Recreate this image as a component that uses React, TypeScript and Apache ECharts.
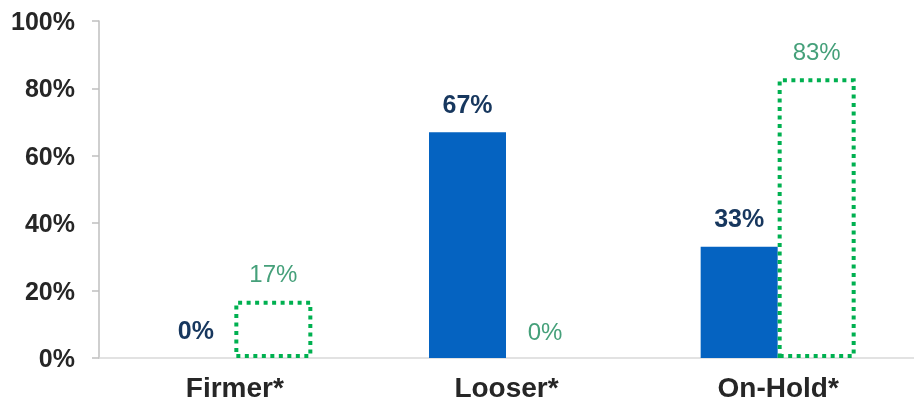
import React, { useEffect, useRef } from "react";
import * as echarts from "echarts";

const categories = ["Firmer*", "Looser*", "On-Hold*"];
const seriesA = [0, 67, 33];
const seriesB = [17, 0, 83];
const yTicks = { min: 0, max: 100, interval: 20 };

const FONT = "'Liberation Sans', Arial, sans-serif";

export default function App() {
  const ref = useRef<HTMLDivElement>(null);
  useEffect(() => {
    if (!ref.current) return;
    const chart = echarts.init(ref.current, undefined, { renderer: "svg" });
    chart.setOption({
      animation: false,
      grid: { left: 99, right: -5, top: 21, bottom: 54, containLabel: false },
      xAxis: {
        type: "category",
        data: categories,
        axisLine: { show: true, lineStyle: { color: "#d9d9d9", width: 1.5 } },
        axisTick: { show: false },
        axisLabel: {
          margin: 15,
          color: "#262626",
          fontSize: 28,
          fontWeight: "bold",
          fontFamily: FONT,
        },
      },
      yAxis: {
        type: "value",
        min: yTicks.min,
        max: yTicks.max,
        interval: yTicks.interval,
        splitLine: { show: false },
        axisLine: { show: true, lineStyle: { color: "#bfbfbf", width: 1.5 } },
        axisTick: { show: true, length: 7, lineStyle: { color: "#bfbfbf", width: 1.5 } },
        axisLabel: {
          margin: 24,
          color: "#262626",
          fontSize: 25,
          fontWeight: "bold",
          fontFamily: FONT,
          formatter: (v: number) => v + "%",
        },
      },
      series: [
        {
          type: "bar",
          data: seriesA,
          barWidth: 77,
          barGap: "0%",
          itemStyle: { color: "#0563C1" },
          label: {
            show: true,
            position: "top",
            distance: 16,
            color: "#17375E",
            fontSize: 25,
            fontWeight: "bold",
            fontFamily: FONT,
            formatter: (p: any) => p.value + "%",
          },
        },
        {
          type: "bar",
          data: seriesB.map((v) =>
            v === 0 ? { value: v, itemStyle: { borderWidth: 0 } } : v
          ),
          barWidth: 78,
          barGap: "0%",
          itemStyle: {
            color: "rgba(255,255,255,0)",
            borderColor: "#00B050",
            borderWidth: 4,
            borderType: [4, 4.5],
          },
          label: {
            show: true,
            position: "top",
            distance: 15,
            color: "#45A07A",
            fontSize: 24,
            fontWeight: "normal",
            fontFamily: FONT,
            formatter: (p: any) => p.value + "%",
          },
        },
      ],
    });
    return () => chart.dispose();
  }, []);
  return (
    <div
      ref={ref}
      style={{ position: "fixed", left: 0, top: 0, width: 914, height: 412 }}
    />
  );
}
